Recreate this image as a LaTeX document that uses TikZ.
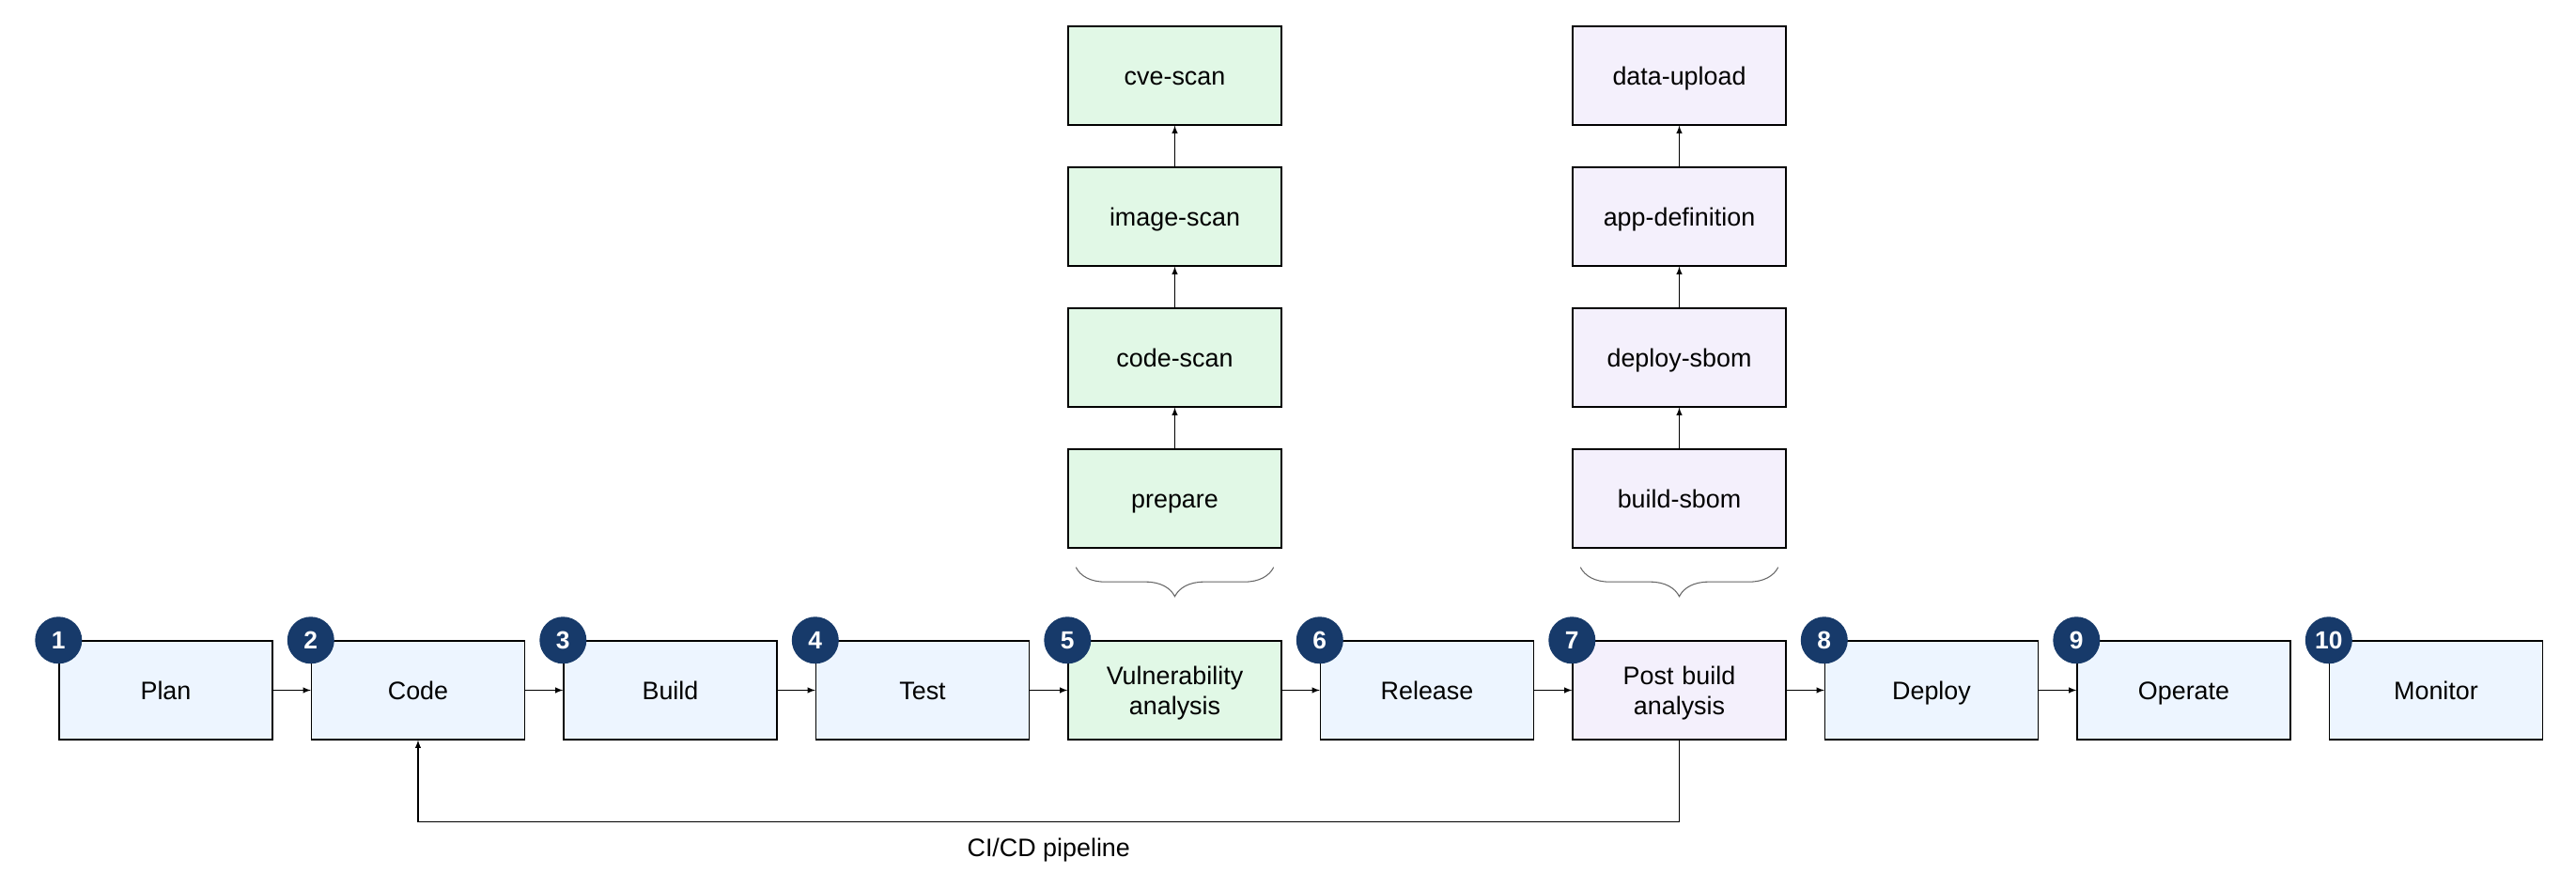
\documentclass[tikz,border=0pt]{standalone}
\usepackage{fontspec}
\setmainfont{Liberation Sans}
\usetikzlibrary{arrows,positioning,decorations.pathreplacing}
\definecolor{stageblue}{HTML}{EDF5FF}
\definecolor{scangreen}{HTML}{E1F8E6}
\definecolor{sbompurple}{HTML}{F4F0FC}
\definecolor{badgenavy}{HTML}{173A6A}

\begin{document}
\begin{tikzpicture}[>=latex]
    \tikzset{block/.style= {draw, rectangle
    , line width=0.8pt
    , node distance=5.37cm
    , minimum width=4.54cm
    , minimum height=2.1cm
    , text width=4cm
    , align=center
    , fill=stageblue
    , font=\fontsize{15.3}{18}\selectfont
    , execute at begin node={\rule[-3.5pt]{0pt}{18pt}}
      }
    , scanbox/.style={block, fill=scangreen, node distance=3cm}
    , sbombox/.style={block, fill=sbompurple, node distance=3cm}
    , badge/.style={circle, fill=badgenavy, text=white
    , minimum size=1cm, inner sep=0pt
    , font=\bfseries\fontsize{15}{15}\selectfont
      }
    , link/.style={line width=0.6pt}
    }
\useasboundingbox (0,0) rectangle (54.84,18.92);

% pipeline stages
\node [block] (plan) at (3.53,4.23) {Plan};
\node [block, right of=plan] (code) {Code};
\node [block, right of=code] (build) {Build};
\node [block, right of=build] (test) {Test};
\node [block, right of=test, fill=scangreen] (vuln) {Vulnerability\\analysis};
\node [block, right of=vuln] (release) {Release};
\node [block, right of=release, fill=sbompurple] (post) {Post build\\analysis};
\node [block, right of=post] (deploy) {Deploy};
\node [block, right of=deploy] (operate) {Operate};
\node [block, right of=operate] (monitor) {Monitor};

% scan tasks
\node [scanbox, above of=vuln, node distance=4.08cm] (prepare) {prepare};
\node [scanbox, above of=prepare] (codescan) {code-scan};
\node [scanbox, above of=codescan] (imagescan) {image-scan};
\node [scanbox, above of=imagescan] (cvescan) {cve-scan};

% sbom tasks
\node [sbombox, above of=post, node distance=4.08cm] (buildsbom) {build-sbom};
\node [sbombox, above of=buildsbom] (deploysbom) {deploy-sbom};
\node [sbombox, above of=deploysbom] (appdef) {app-definition};
\node [sbombox, above of=appdef] (dataupload) {data-upload};

\foreach \n/\b in {1/plan, 2/code, 3/build, 4/test, 5/vuln, 6/release,
    7/post, 8/deploy, 9/operate, 10/monitor}
  \node [badge] (badge\n) at (\b.north west) {\n};

\foreach \a/\b in {plan/code, code/build, build/test, test/vuln,
    vuln/release, release/post, post/deploy, deploy/operate,
    prepare/codescan, codescan/imagescan, imagescan/cvescan,
    buildsbom/deploysbom, deploysbom/appdef, appdef/dataupload}
  \draw [link, ->] (\a) -- (\b);

\foreach \t in {prepare, buildsbom}
  \draw [link, gray!80!black, decorate, decoration={brace, mirror, amplitude=0.62cm}]
    ([xshift=0.18cm, yshift=-0.4cm]\t.south west) -- ([xshift=-0.18cm, yshift=-0.4cm]\t.south east);

\draw [link, ->] (post.south) -- ++(0,-1.74)
  -| node [pos=0.25, below=0.22cm, font=\fontsize{15.3}{18}\selectfont] (cicd) {CI/CD pipeline}
  (code.south);
\end{tikzpicture}
\end{document}
